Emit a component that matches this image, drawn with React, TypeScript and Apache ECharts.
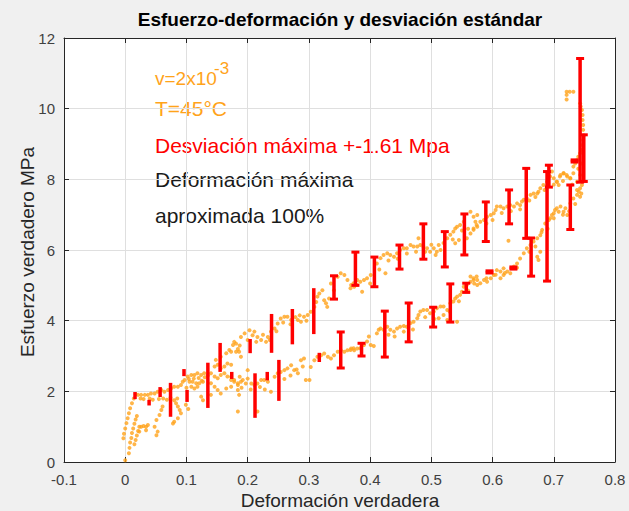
import React, { useEffect, useRef } from "react";
import * as echarts from "echarts";

// ---------- axis definitions ----------
const xMin = -0.1;
const xMax = 0.8;
const xStep = 0.1;
const yMin = 0;
const yMax = 12;
const yStep = 2;

// ---------- texts ----------
const titleText = "Esfuerzo-deformación y desviación estándar";
const xAxisName = "Deformación verdadera";
const yAxisName = "Esfuerzo verdadero MPa";
const noteVelocity = "v=2x10";
const noteVelocityExp = "-3";
const noteTemp = "T=45°C";
const noteDeviation = "Desviación máxima +-1.61 Mpa";
const noteStrain1 = "Deformación máxima";
const noteStrain2 = "aproximada 100%";

// ---------- scatter data [strain, stress] ----------
const pointsEarly: number[][] = [
  [0.0, 0.05], [-0.003, 0.67], [-0.002, 0.8], [0.0, 0.95], [0.002, 1.1], [0.004, 1.24], [0.006, 1.38], [0.008, 1.52], [0.011, 1.66], [0.014, 1.8], [0.017, 1.92],
  [0.006, 0.25], [0.007, 0.4], [0.008, 0.55], [0.01, 0.68], [0.011, 0.82], [0.013, 0.95], [0.015, 1.08], [0.017, 1.2], [0.019, 1.3],
  [0.015, 0.5], [0.017, 0.62], [0.019, 0.75], [0.021, 0.88], [0.023, 1.0], [0.026, 1.0], [0.03, 1.02], [0.034, 1.0],
  [0.021, 1.9], [0.026, 1.9], [0.032, 1.9], [0.037, 1.9], [0.042, 1.94], [0.048, 1.94], [0.053, 1.99], [0.059, 2.04],
  [0.064, 1.99], [0.07, 2.04], [0.075, 2.09], [0.08, 2.13], [0.086, 2.13], [0.091, 2.18], [0.094, 2.27], [0.097, 2.32],
  [0.025, 1.8], [0.03, 1.78], [0.04, 1.8], [0.045, 1.76], [0.055, 1.78], [0.062, 1.8], [0.068, 1.76], [0.074, 1.82], [0.085, 1.8],
  [0.102, 2.42], [0.108, 2.46], [0.113, 2.46], [0.118, 2.51], [0.124, 2.46], [0.129, 2.51],
  [0.105, 2.27], [0.11, 2.27], [0.116, 2.23], [0.121, 2.23], [0.127, 2.27],
  [0.108, 2.13], [0.113, 2.08], [0.118, 2.13], [0.1, 2.1], [0.104, 2.35], [0.112, 2.36], [0.12, 2.38], [0.125, 2.3], [0.13, 2.4], [0.135, 2.45],
  [0.14, 2.51], [0.146, 2.42], [0.151, 2.37], [0.156, 2.46], [0.162, 2.51], [0.167, 2.42], [0.173, 2.32], [0.178, 2.27], [0.184, 2.23], [0.189, 2.27],
  [0.146, 2.7], [0.151, 2.75], [0.156, 2.65], [0.162, 2.7], [0.167, 2.79], [0.173, 2.75],
  [0.148, 2.89], [0.156, 2.98], [0.165, 3.08], [0.17, 3.17], [0.176, 3.31], [0.181, 3.12], [0.186, 3.12], [0.189, 2.98],
  [0.173, 3.12], [0.178, 3.4], [0.184, 3.2], [0.187, 3.3],
  [0.14, 2.23], [0.146, 2.13], [0.151, 2.04], [0.156, 1.94], [0.165, 2.08], [0.173, 2.13], [0.184, 2.04], [0.186, 1.9], [0.124, 1.85], [0.127, 1.75], [0.14, 1.9],
  [0.08, 1.75], [0.083, 1.66], [0.086, 1.57], [0.089, 1.47], [0.091, 1.38], [0.086, 1.24], [0.08, 1.14], [0.078, 1.09], [0.099, 1.62], [0.103, 1.5],
  [0.059, 1.47], [0.061, 1.57], [0.056, 1.33], [0.051, 1.19], [0.037, 1.05], [0.034, 0.9], [0.048, 1.0], [0.053, 0.86], [0.051, 0.76], [0.023, 0.86],
];

const pointsUpper: number[][] = [
  [0.181, 3.35], [0.189, 3.54], [0.195, 3.64], [0.203, 3.73], [0.208, 3.59], [0.211, 3.69], [0.216, 3.54], [0.222, 3.45], [0.23, 3.4], [0.233, 3.54],
  [0.238, 3.69], [0.244, 3.78], [0.249, 3.92], [0.254, 4.06], [0.26, 4.11], [0.265, 4.11], [0.271, 4.02], [0.282, 4.02], [0.287, 3.97], [0.292, 4.11],
  [0.298, 4.16], [0.303, 4.25], [0.309, 4.39], [0.312, 4.53], [0.314, 4.68], [0.317, 4.77], [0.322, 4.86], [0.325, 4.58], [0.328, 4.49], [0.33, 4.39],
  [0.333, 4.63], [0.336, 5.05], [0.341, 4.86], [0.347, 5.24], [0.352, 5.34], [0.358, 5.29], [0.363, 5.15], [0.369, 5.01], [0.374, 4.96], [0.379, 5.01],
  [0.2, 3.45], [0.214, 3.4], [0.225, 3.6], [0.236, 3.45], [0.247, 3.7], [0.258, 3.95], [0.27, 3.9], [0.278, 4.1], [0.285, 4.15], [0.296, 4.0],
  [0.368, 4.92], [0.373, 5.06], [0.379, 5.15], [0.384, 5.1], [0.39, 5.15], [0.387, 4.82], [0.395, 5.2], [0.401, 5.29], [0.411, 5.62], [0.417, 5.77],
  [0.422, 5.86], [0.425, 5.34], [0.428, 5.91], [0.433, 5.86], [0.439, 5.81], [0.444, 5.91], [0.449, 6.0], [0.455, 6.05], [0.46, 6.05], [0.466, 6.14],
  [0.471, 6.1], [0.477, 6.1], [0.479, 6.33], [0.482, 6.14], [0.487, 6.1], [0.493, 6.05], [0.498, 5.95], [0.504, 6.05], [0.507, 5.86], [0.509, 5.95],
  [0.512, 6.14], [0.515, 6.0], [0.526, 6.33], [0.531, 6.43], [0.536, 6.52], [0.539, 6.61], [0.542, 6.66], [0.547, 6.71], [0.553, 6.8], [0.558, 6.33],
  [0.564, 6.47], [0.569, 6.61], [0.574, 6.71], [0.539, 6.19], [0.545, 6.28],
  [0.4, 5.05], [0.415, 5.45], [0.43, 5.7], [0.445, 5.75], [0.46, 5.9], [0.475, 5.95], [0.49, 5.95], [0.5, 6.15], [0.52, 6.2], [0.535, 6.3], [0.55, 6.55], [0.56, 6.6],
  [0.564, 7.08], [0.569, 6.94], [0.572, 6.8], [0.575, 6.99], [0.58, 6.8], [0.586, 6.85], [0.591, 6.94], [0.597, 6.99], [0.602, 7.04], [0.605, 7.13],
  [0.607, 7.23], [0.613, 7.23], [0.618, 7.18], [0.624, 7.23], [0.629, 7.27], [0.635, 7.23], [0.64, 7.32], [0.645, 7.27], [0.648, 7.37], [0.651, 7.42],
  [0.656, 7.46], [0.662, 7.56], [0.667, 7.6], [0.673, 7.6], [0.675, 7.65], [0.678, 7.75], [0.683, 7.84], [0.689, 7.93], [0.694, 8.08], [0.697, 8.22],
  [0.7, 8.03], [0.705, 7.93], [0.708, 7.84], [0.711, 8.12], [0.716, 8.17], [0.722, 8.08], [0.727, 8.03], [0.732, 8.17], [0.738, 7.93], [0.743, 8.12],
  [0.569, 6.57], [0.575, 6.66], [0.626, 6.26],
  [0.59, 6.75], [0.6, 6.85], [0.615, 7.05], [0.63, 7.1], [0.645, 7.15], [0.66, 7.4], [0.67, 7.5], [0.685, 7.7], [0.7, 7.85], [0.715, 7.95], [0.73, 7.85], [0.74, 8.3], [0.745, 8.45],
];

const pointsLower: number[][] = [
  [0.173, 2.41], [0.178, 2.32], [0.184, 2.18], [0.187, 2.41], [0.192, 2.32], [0.197, 2.22], [0.2, 2.36], [0.206, 2.22], [0.211, 2.18], [0.216, 2.22],
  [0.222, 2.32], [0.227, 2.32], [0.233, 2.27], [0.238, 1.99], [0.244, 2.41], [0.249, 2.51], [0.254, 2.55], [0.26, 2.6], [0.265, 2.65], [0.271, 2.74],
  [0.276, 2.6], [0.282, 2.51], [0.287, 2.88], [0.292, 2.93], [0.295, 2.32], [0.301, 2.32], [0.303, 2.69], [0.309, 2.88], [0.314, 2.98], [0.32, 3.02],
  [0.325, 3.07], [0.331, 2.98], [0.336, 2.93], [0.341, 3.02], [0.347, 3.12], [0.352, 3.16], [0.358, 3.12], [0.363, 3.16], [0.369, 3.21], [0.374, 3.16],
  [0.379, 3.21], [0.184, 1.43], [0.216, 1.43], [0.2, 2.6],
  [0.19, 2.1], [0.205, 2.05], [0.22, 2.12], [0.228, 2.05], [0.26, 2.35], [0.27, 2.45], [0.28, 2.62], [0.29, 2.7],
  [0.368, 3.17], [0.373, 3.22], [0.384, 3.22], [0.39, 3.31], [0.395, 3.41], [0.398, 3.55], [0.401, 3.31], [0.406, 3.28], [0.411, 3.64],
  [0.414, 3.74], [0.417, 3.78], [0.422, 3.74], [0.428, 3.83], [0.433, 3.74], [0.439, 3.69], [0.444, 3.78], [0.449, 3.83], [0.455, 3.69], [0.46, 3.83],
  [0.466, 3.93], [0.471, 3.97], [0.477, 4.07], [0.479, 4.16], [0.482, 4.26], [0.487, 4.3], [0.493, 4.3], [0.498, 4.21], [0.504, 4.26], [0.509, 4.35],
  [0.515, 4.4], [0.52, 4.16], [0.526, 4.3], [0.531, 4.49], [0.536, 4.54], [0.539, 4.63], [0.542, 4.68], [0.547, 4.73], [0.55, 4.82], [0.553, 4.96],
  [0.558, 5.01], [0.564, 5.1], [0.569, 5.15], [0.574, 5.25], [0.526, 4.02], [0.542, 3.97], [0.512, 4.07],
  [0.43, 3.6], [0.44, 3.55], [0.455, 3.85], [0.47, 3.75], [0.49, 4.1], [0.505, 4.05], [0.52, 4.4], [0.53, 4.25], [0.545, 4.55], [0.56, 4.85], [0.57, 5.05],
  [0.564, 5.25], [0.569, 5.2], [0.575, 5.15], [0.58, 5.06], [0.586, 5.15], [0.591, 5.1], [0.597, 5.2], [0.602, 5.29], [0.607, 5.43], [0.613, 5.39],
  [0.618, 5.48], [0.624, 5.39], [0.629, 5.34], [0.635, 5.53], [0.64, 5.62], [0.645, 5.76], [0.651, 5.91], [0.656, 6.05], [0.662, 6.14], [0.667, 6.24],
  [0.673, 6.33], [0.675, 5.72], [0.678, 6.42], [0.681, 6.57], [0.686, 6.75], [0.692, 6.85], [0.694, 6.9], [0.697, 6.99], [0.7, 7.04], [0.702, 7.13],
  [0.705, 7.18], [0.708, 7.08], [0.711, 7.23], [0.716, 7.08], [0.719, 7.18], [0.722, 6.99], [0.727, 7.32], [0.732, 7.46], [0.738, 7.56], [0.741, 7.65],
  [0.743, 7.75], [0.746, 7.84], [0.575, 5.01], [0.613, 5.2], [0.618, 5.29], [0.673, 5.81], [0.678, 5.95],
  [0.59, 5.2], [0.605, 5.3], [0.62, 5.35], [0.64, 5.5], [0.66, 5.95], [0.67, 6.1], [0.68, 6.5], [0.69, 6.6], [0.7, 6.9], [0.715, 7.0], [0.725, 7.1], [0.735, 7.3], [0.745, 7.6],
];

const pointsTop: number[][] = [
  [0.721, 10.48], [0.721, 10.39], [0.721, 10.26], [0.726, 10.48], [0.732, 10.48],
  [0.743, 10.15], [0.744, 10.06], [0.746, 9.96], [0.747, 9.82], [0.747, 9.68], [0.748, 9.54], [0.748, 9.4], [0.749, 9.25], [0.748, 9.11],
  [0.747, 8.97], [0.746, 8.83], [0.743, 8.74], [0.74, 8.64], [0.738, 8.55], [0.735, 8.45], [0.732, 8.36],
  [0.716, 8.17], [0.721, 8.12], [0.727, 8.03], [0.71, 8.08], [0.705, 7.93], [0.738, 7.7], [0.743, 7.51],
];

// ---------- error bars [strain, mean stress, deviation] ----------
const errorBarsFirst: number[][] = [
  [0.016, 1.88, 0.1], [0.039, 1.68, 0.08], [0.057, 1.98, 0.14], [0.074, 1.76, 0.48], [0.096, 2.53, 0.1],
  [0.101, 1.87, 0.17], [0.135, 2.17, 0.64], [0.155, 2.96, 0.41], [0.174, 2.45, 0.1], [0.204, 3.28, 0.2],
  [0.212, 1.88, 0.63], [0.232, 2.43, 0.12], [0.239, 3.64, 0.55], [0.251, 2.31, 0.58], [0.273, 3.83, 0.5],
  [0.308, 4.27, 0.65], [0.317, 2.96, 0.13],
];
const errorBarsSecond: number[][] = [
  [0.341, 4.94, 0.33], [0.352, 3.17, 0.51], [0.376, 5.47, 0.47], [0.386, 3.18, 0.18], [0.407, 5.38, 0.42],
  [0.424, 3.62, 0.65], [0.448, 5.8, 0.34], [0.463, 3.95, 0.55], [0.487, 6.24, 0.5], [0.503, 4.1, 0.28],
  [0.522, 6.02, 0.5], [0.531, 4.5, 0.54], [0.554, 6.44, 0.58], [0.557, 4.93, 0.13], [0.589, 6.8, 0.56],
  [0.595, 5.38, 0.03], [0.627, 7.22, 0.48], [0.634, 5.49, 0.03], [0.655, 7.32, 0.99], [0.663, 5.8, 0.54],
  [0.689, 6.67, 1.55], [0.692, 8.09, 0.31], [0.727, 7.21, 0.63], [0.734, 8.52, 0.03], [0.743, 9.67, 1.75],
  [0.749, 8.6, 0.66],
];

const FONT = "'Liberation Sans', Arial, Helvetica, sans-serif";
const ORANGE = "#ffa31a";
const RED = "#ff0000";
const AXIS = "#262626";

function fmt(v: number): string {
  return String(Number(v.toFixed(1)));
}

function errRenderer(capHalf: number) {
  return (params: any, api: any) => {
    const x = api.value(0);
    const y = api.value(1);
    const d = api.value(2);
    const t = api.coord([x, y + d]);
    const b = api.coord([x, y - d]);
    const children: any[] = [
      {
        type: "line",
        shape: { x1: t[0], y1: t[1], x2: b[0], y2: b[1] },
        style: { stroke: RED, lineWidth: 3.5 },
      },
    ];
    if (capHalf > 0) {
      children.push({
        type: "line",
        shape: { x1: t[0] - capHalf, y1: t[1], x2: t[0] + capHalf, y2: t[1] },
        style: { stroke: RED, lineWidth: 3 },
      });
      children.push({
        type: "line",
        shape: { x1: b[0] - capHalf, y1: b[1], x2: b[0] + capHalf, y2: b[1] },
        style: { stroke: RED, lineWidth: 3 },
      });
    }
    return { type: "group", children };
  };
}

export default function App() {
  const ref = useRef<HTMLDivElement>(null);

  useEffect(() => {
    if (!ref.current) return;
    const chart = echarts.init(ref.current, null, { renderer: "svg" });

    const baseAxisLine = { show: true, onZero: false, lineStyle: { color: AXIS, width: 1 } };
    const baseTick = { show: true, inside: true, length: 5, lineStyle: { color: AXIS, width: 1 } };

    const option: any = {
      animation: false,
      backgroundColor: "#f0f0f0",
      grid: { left: 64, right: 14, top: 38, bottom: 49, show: true, backgroundColor: "#ffffff", borderWidth: 0 },
      xAxis: [
        {
          type: "value", min: xMin, max: xMax, interval: xStep, position: "bottom",
          axisLine: baseAxisLine, axisTick: baseTick,
          axisLabel: { color: "#404040", fontSize: 15, fontFamily: FONT, margin: 10, formatter: fmt, showMinLabel: true, showMaxLabel: true },
          splitLine: { show: true, lineStyle: { color: "#dfdfdf", width: 1 } },
        },
        {
          type: "value", min: xMin, max: xMax, interval: xStep, position: "top",
          axisLine: baseAxisLine, axisTick: baseTick, axisLabel: { show: false }, splitLine: { show: false },
        },
      ],
      yAxis: [
        {
          type: "value", min: yMin, max: yMax, interval: yStep, position: "left",
          axisLine: baseAxisLine, axisTick: baseTick,
          axisLabel: { color: "#404040", fontSize: 15, fontFamily: FONT, margin: 9 },
          splitLine: { show: true, lineStyle: { color: "#dfdfdf", width: 1 } },
        },
        {
          type: "value", min: yMin, max: yMax, interval: yStep, position: "right",
          axisLine: baseAxisLine, axisTick: baseTick, axisLabel: { show: false }, splitLine: { show: false },
        },
      ],
      series: [
        {
          type: "scatter", symbol: "circle", symbolSize: 4, silent: true,
          itemStyle: { color: ORANGE },
          data: [...pointsEarly, ...pointsUpper, ...pointsLower, ...pointsTop],
          z: 2,
        },
        {
          type: "custom", renderItem: errRenderer(0), data: errorBarsFirst, z: 3, silent: true,
          encode: { x: 0, y: [1, 2] },
        },
        {
          type: "custom", renderItem: errRenderer(4), data: errorBarsSecond, z: 3, silent: true,
          encode: { x: 0, y: [1, 2] },
        },
      ],
      graphic: [
        { type: "text", x: 340, y: 19, style: { text: titleText, font: `bold 19px ${FONT}`, fill: "#000000", textAlign: "center", textVerticalAlign: "middle" } },
        { type: "text", x: 340, y: 500, style: { text: xAxisName, font: `19px ${FONT}`, fill: "#262626", textAlign: "center", textVerticalAlign: "middle" } },
        { type: "text", x: 27, y: 252, rotation: Math.PI / 2, style: { text: yAxisName, font: `19px ${FONT}`, fill: "#262626", textAlign: "center", textVerticalAlign: "middle" } },
        { type: "text", x: 155, y: 78, style: { text: noteVelocity, font: `19px ${FONT}`, fill: ORANGE, textAlign: "left", textVerticalAlign: "middle" } },
        { type: "text", x: 214, y: 68, style: { text: noteVelocityExp, font: `17px ${FONT}`, fill: ORANGE, textAlign: "left", textVerticalAlign: "middle" } },
        { type: "text", x: 155, y: 108, style: { text: noteTemp, font: `21px ${FONT}`, fill: ORANGE, textAlign: "left", textVerticalAlign: "middle" } },
        { type: "text", x: 155, y: 145, style: { text: noteDeviation, font: `21px ${FONT}`, fill: RED, textAlign: "left", textVerticalAlign: "middle" } },
        { type: "text", x: 155, y: 179, style: { text: noteStrain1, font: `21px ${FONT}`, fill: "#1a1a1a", textAlign: "left", textVerticalAlign: "middle" } },
        { type: "text", x: 155, y: 215, style: { text: noteStrain2, font: `21px ${FONT}`, fill: "#1a1a1a", textAlign: "left", textVerticalAlign: "middle" } },
      ],
    };

    chart.setOption(option);
    return () => chart.dispose();
  }, []);

  return (
    <div
      ref={ref}
      style={{ position: "absolute", left: 0, top: 0, width: 629, height: 511 }}
    />
  );
}
